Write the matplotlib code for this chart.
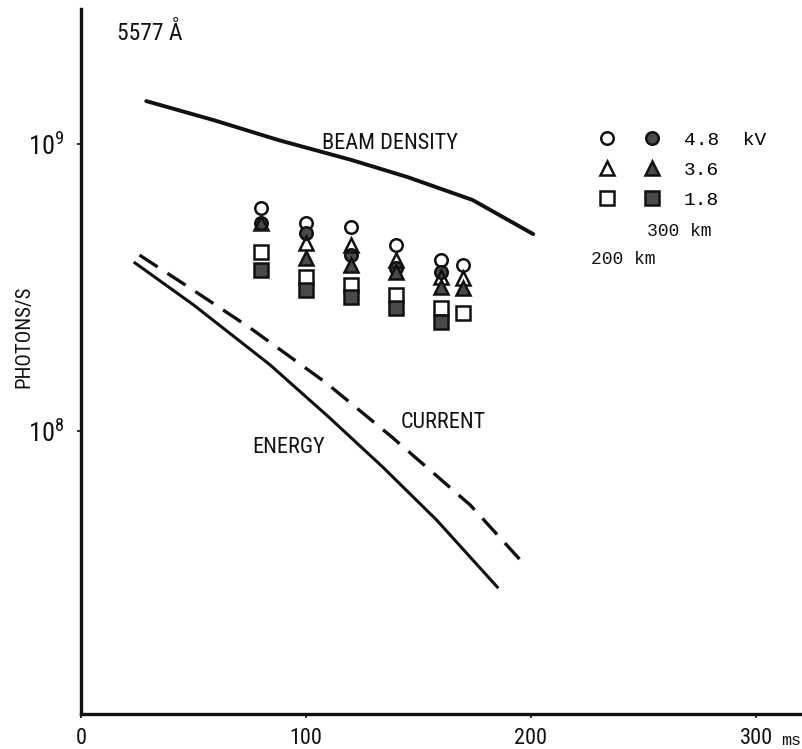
import numpy as np
import matplotlib
matplotlib.use("Agg")
import matplotlib.pyplot as plt
from matplotlib import font_manager
from matplotlib.legend_handler import HandlerTuple

# curves (time in ms, photons/s)
beam_t = [29, 59, 88, 120, 145, 174, 201]
beam_v = [1.41e9, 1.21e9, 1.03e9, 8.8e8, 7.67e8, 6.38e8, 4.85e8]

energy_t = [24, 50, 84, 110, 134, 158, 185]
energy_v = [3.85e8, 2.75e8, 1.70e8, 1.12e8, 7.5e7, 4.9e7, 2.86e7]

current_t = [26, 50, 75, 109, 138, 173, 196]
current_v = [4.10e8, 3.09e8, 2.29e8, 1.47e8, 9.55e7, 5.52e7, 3.50e7]

# measured points, open = one altitude, filled = the other
t_all = [80, 100, 120, 140, 160, 170]
t_part = [80, 100, 120, 140, 160]
t_tri_f = [100, 120, 140, 160, 170]

circ_open = [5.98e8, 5.31e8, 5.14e8, 4.45e8, 3.94e8, 3.78e8]
circ_fill = [5.31e8, 4.90e8, 4.10e8, 3.70e8, 3.58e8]
tri_open = [5.31e8, 4.52e8, 4.45e8, 3.94e8, 3.44e8, 3.41e8]
tri_fill = [4.01e8, 3.78e8, 3.58e8, 3.18e8, 3.15e8]
sq_open = [4.21e8, 3.44e8, 3.23e8, 2.98e8, 2.69e8, 2.58e8]
sq_fill = [3.64e8, 3.10e8, 2.93e8, 2.69e8, 2.40e8]

voltages = ["4.8  kV", "3.6", "1.8"]

# the scan uses a tall narrow typeface; take a condensed one if there is one
names = {f.name for f in font_manager.fontManager.ttflist}
sans = dict(family="DejaVu Sans")
scale = 0.8
for cand in ["Liberation Sans Narrow", "Roboto Condensed", "Open Sans Condensed",
             "DejaVu Sans Condensed", "Noto Sans Condensed"]:
    if cand in names:
        sans = dict(family=cand)
        scale = 1.0
        break
else:
    cond = [f for f in font_manager.fontManager.ttflist
            if f.name == "DejaVu Sans" and f.stretch == "condensed"
            and f.weight in (400, "normal") and f.style == "normal"]
    if cond:
        sans = dict(family="DejaVu Sans", stretch="condensed")
        scale = 0.9

mono = ["Liberation Mono", "DejaVu Sans Mono"]
ink = "#111111"
fillc = "#4a4a4a"

fig = plt.figure(figsize=(8.03, 7.49), dpi=100)
ax = fig.add_axes([81 / 803, 35 / 749, 720 / 803, 705 / 749])
ax.set_yscale("log")
ax.set_xlim(0, 320)
ax.set_ylim(10 ** 7.014, 10 ** 9.47)

ax.plot(beam_t, beam_v, color=ink, lw=2.8, solid_capstyle="round")
ax.plot(energy_t, energy_v, color=ink, lw=2.2)
ax.plot(current_t, current_v, color=ink, lw=2.4, dashes=(6.5, 3.5))

ms = 9
mew = 1.8
h_co, = ax.plot(t_all, circ_open, "o", ms=ms, mfc="none", mec=ink, mew=mew)
h_cf, = ax.plot(t_part, circ_fill, "o", ms=ms, mfc=fillc, mec=ink, mew=mew)
h_to, = ax.plot(t_all, tri_open, "^", ms=ms + 1, mfc="none", mec=ink, mew=mew)
h_tf, = ax.plot(t_tri_f, tri_fill, "^", ms=ms + 1, mfc=fillc, mec=ink, mew=mew)
h_so, = ax.plot(t_all, sq_open, "s", ms=ms + 1, mfc="none", mec=ink, mew=mew)
h_sf, = ax.plot(t_part, sq_fill, "s", ms=ms + 1, mfc=fillc, mec=ink, mew=mew)

leg = ax.legend([(h_co, h_cf), (h_to, h_tf), (h_so, h_sf)], voltages,
                handler_map={tuple: HandlerTuple(ndivide=None, pad=0.6)},
                loc="upper left", bbox_to_anchor=(0.694, 0.84),
                frameon=False, borderpad=0, handlelength=4.0,
                handletextpad=0.8, labelspacing=0.64, numpoints=1,
                prop={"family": mono, "size": 14})

ax.text(0.786, 0.684, "300 km", transform=ax.transAxes, family=mono,
        fontsize=13, va="center", ha="left", color=ink)
ax.text(0.708, 0.644, "200 km", transform=ax.transAxes, family=mono,
        fontsize=13, va="center", ha="left", color=ink)

# curve labels
fs = 16 * scale
ax.text(107, 1.0e9, "BEAM DENSITY", fontsize=fs, color=ink,
        va="center", ha="left", **sans)
ax.text(142, 1.07e8, "CURRENT", fontsize=fs, color=ink,
        va="center", ha="left", **sans)
ax.text(76, 8.73e7, "ENERGY", fontsize=fs, color=ink,
        va="center", ha="left", **sans)
ax.text(0.05, 0.965, "5577 Å", transform=ax.transAxes,
        fontsize=17 * scale, color=ink, va="center", ha="left", **sans)

ax.set_ylabel("PHOTONS/S", fontsize=15 * scale, color=ink, **sans)
ax.yaxis.set_label_coords(-0.066, 0.535)

# axes look
for side in ["top", "right"]:
    ax.spines[side].set_visible(False)
for side in ["left", "bottom"]:
    ax.spines[side].set_linewidth(2.4)
    ax.spines[side].set_color(ink)

ax.set_yticks([1e8, 1e9])
ax.set_yticklabels([r"$\mathregular{10^{8}}$", r"$\mathregular{10^{9}}$"])
ax.yaxis.set_minor_locator(matplotlib.ticker.NullLocator())
ax.set_xticks([0, 100, 200, 300])
ax.set_xticklabels(["0", "100", "200", "300"])
ax.tick_params(axis="both", direction="out", length=3, width=1.2, colors=ink)
ax.tick_params(axis="x", pad=7)
ax.tick_params(axis="y", pad=9)
for lab in ax.get_xticklabels():
    lab.set_fontproperties(font_manager.FontProperties(size=16 * scale, **sans))
for lab in ax.get_yticklabels():
    lab.set_fontproperties(font_manager.FontProperties(size=19 * scale, **sans))

ax.text(1.0, -0.037, "ms", transform=ax.transAxes, family=mono, fontsize=12,
        color=ink, va="center", ha="right")

fig.savefig("out.png", dpi=100)
